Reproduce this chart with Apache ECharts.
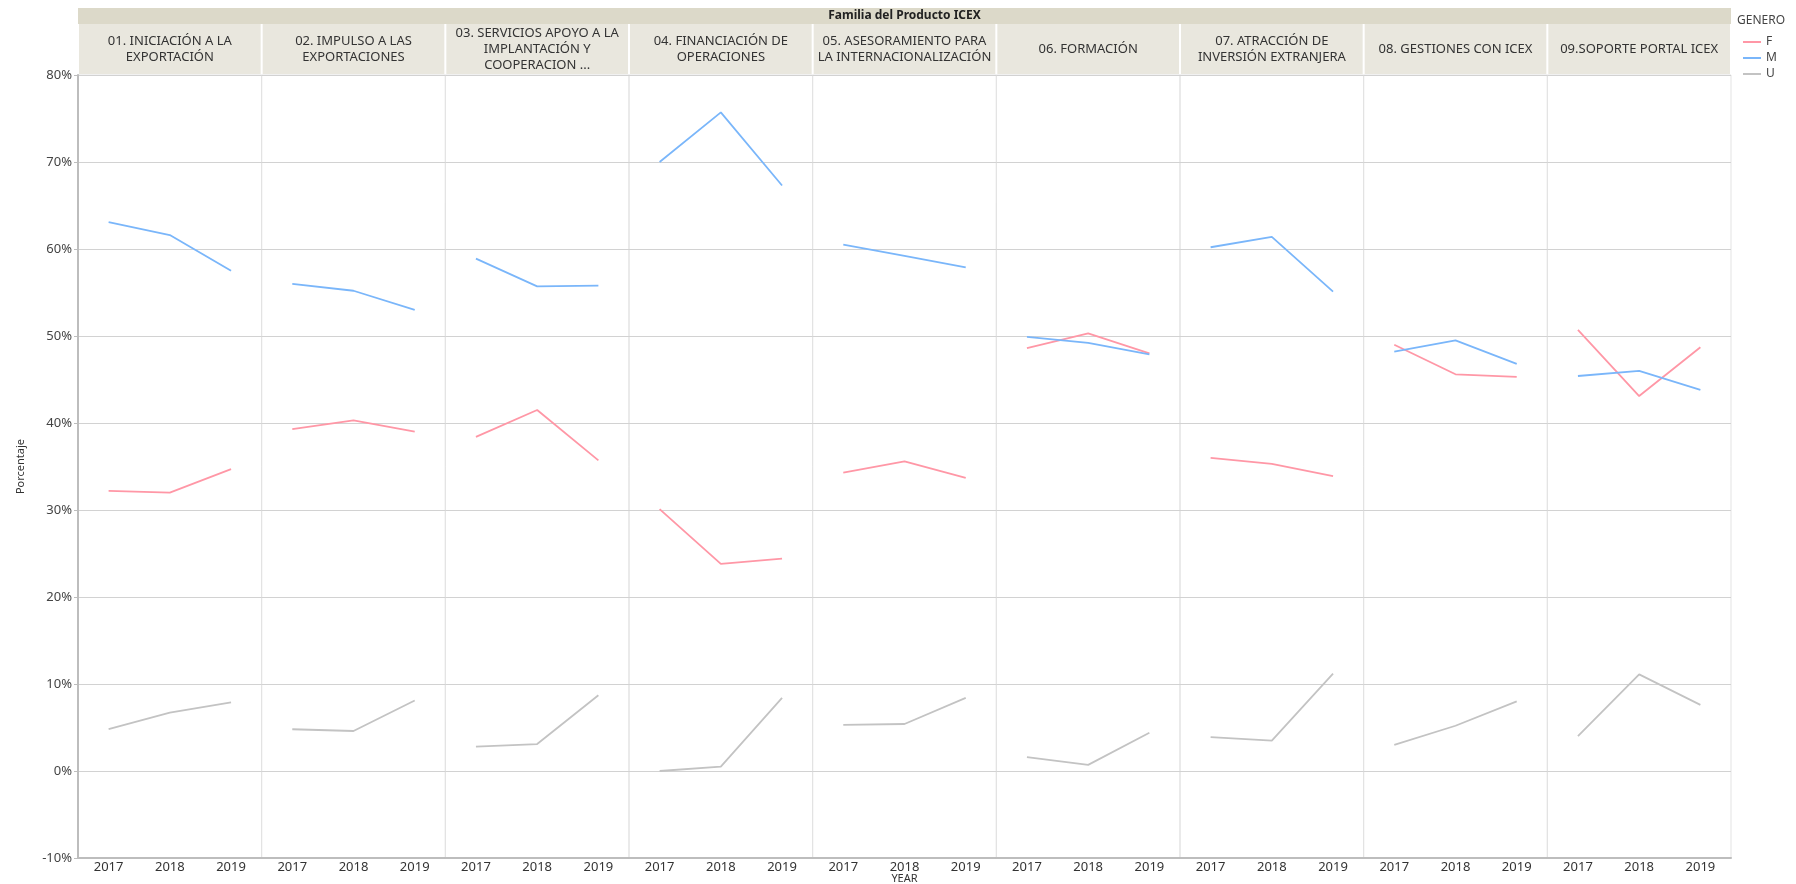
<!DOCTYPE html>
<html>
<head>
<meta charset="utf-8">
<script src="https://cdn.jsdelivr.net/npm/echarts@6/dist/echarts.min.js"></script>
<style>
html, body { margin: 0; padding: 0; background: #fff; }
#main { width: 1796px; height: 884px; }
</style>
</head>
<body>
<div id="main"></div>
<script>
// datos por familia (F, M, U) en %
const families = [
    '01. INICIACIÓN A LA\nEXPORTACIÓN',
    '02. IMPULSO A LAS\nEXPORTACIONES',
    '03. SERVICIOS APOYO A LA\nIMPLANTACIÓN Y\nCOOPERACION ...',
    '04. FINANCIACIÓN DE\nOPERACIONES',
    '05. ASESORAMIENTO PARA\nLA INTERNACIONALIZACIÓN',
    '06. FORMACIÓN',
    '07. ATRACCIÓN DE\nINVERSIÓN EXTRANJERA',
    '08. GESTIONES CON ICEX',
    '09.SOPORTE PORTAL ICEX'
];
const years = ['2017', '2018', '2019'];
const genders = ['F', 'M', 'U'];

const valuesF = [
    [32.2, 32.0, 34.7],
    [39.3, 40.3, 39.0],
    [38.4, 41.5, 35.7],
    [30.1, 23.8, 24.4],
    [34.3, 35.6, 33.7],
    [48.6, 50.3, 48.0],
    [36.0, 35.3, 33.9],
    [49.0, 45.6, 45.3],
    [50.7, 43.1, 48.7]
];
const valuesM = [
    [63.1, 61.6, 57.5],
    [56.0, 55.2, 53.0],
    [58.9, 55.7, 55.8],
    [70.0, 75.7, 67.3],
    [60.5, 59.2, 57.9],
    [49.9, 49.2, 47.9],
    [60.2, 61.4, 55.1],
    [48.2, 49.5, 46.8],
    [45.4, 46.0, 43.8]
];
const valuesU = [
    [4.8, 6.7, 7.9],
    [4.8, 4.6, 8.1],
    [2.8, 3.1, 8.7],
    [0.0, 0.5, 8.4],
    [5.3, 5.4, 8.4],
    [1.6, 0.7, 4.4],
    [3.9, 3.5, 11.2],
    [3.0, 5.2, 8.0],
    [4.0, 11.1, 7.6]
];
const yMin = -10, yMax = 80, yStep = 10;

(function() {
    let chartDom = document.getElementById('main');
    let myChart = echarts.init(chartDom);

    const font = 'Noto Sans';
    const colors = { F: '#ff97a6', M: '#7ab6fa', U: '#c3c3c3' };
    const seriesData = { F: valuesF, M: valuesM, U: valuesU };

    // layout
    const L = 78, R = 1731, T = 75, B = 858;
    const W = (R - L) / families.length;
    const H = B - T;

    let grids = [], xAxes = [], yAxes = [], series = [];
    let graphics = [];

    // franja superior
    graphics.push({
        type: 'rect', shape: { x: L, y: 8, width: R - L, height: 16 },
        style: { fill: '#dcd9c9' }, silent: true
    });
    graphics.push({
        type: 'text', x: (L + R) / 2, y: 16,
        style: { text: 'Familia del Producto ICEX', fontFamily: font, fontSize: 12, fontWeight: 'bold',
                 fill: '#222', textAlign: 'center', textVerticalAlign: 'middle' }, silent: true
    });
    graphics.push({
        type: 'text', x: 1737, y: 21,
        style: { text: 'GENERO', fontFamily: font, fontSize: 12, fill: '#444', textVerticalAlign: 'middle' }
    });
    graphics.push({
        type: 'text', x: (L + R) / 2, y: 879,
        style: { text: 'YEAR', fontFamily: font, fontSize: 11, fill: '#333',
                 textAlign: 'center', textVerticalAlign: 'middle' }
    });

    families.forEach(function(name, i) {
        let x0 = L + i * W;
        grids.push({
            left: x0, top: T, width: W, height: H,
            outerBoundsMode: 'none',
            show: true, borderColor: '#e3e3e3', borderWidth: 1
        });
        xAxes.push({
            type: 'category', gridIndex: i, data: years, boundaryGap: true,
            axisTick: { show: false },
            axisLine: { onZero: false, lineStyle: { color: '#bdbdbd', width: 2 } },
            axisLabel: { interval: 0, color: '#333', fontSize: 13, fontFamily: font, margin: 3 }
        });
        yAxes.push({
            type: 'value', gridIndex: i, min: yMin, max: yMax, interval: yStep,
            splitLine: { lineStyle: { color: '#d2d2d2' } },
            axisLine: { show: i === 0, lineStyle: { color: '#bdbdbd', width: 2 } },
            axisTick: { show: i === 0, length: 4, lineStyle: { color: '#bdbdbd' } },
            axisLabel: { show: i === 0, formatter: '{value}%', color: '#444', fontSize: 13, fontFamily: font, margin: 6 },
            name: i === 0 ? 'Porcentaje' : '',
            nameLocation: 'middle', nameGap: 52,
            nameTextStyle: { color: '#333', fontSize: 11, fontFamily: font }
        });
        genders.forEach(function(g) {
            series.push({
                name: g, type: 'line', xAxisIndex: i, yAxisIndex: i,
                data: seriesData[g][i], symbol: 'none', color: colors[g],
                lineStyle: { width: 1.8 }, animation: false
            });
        });
        // cabecera de la faceta
        graphics.push({
            type: 'rect', shape: { x: x0 + 1, y: 24, width: W - 2, height: 50 },
            style: { fill: '#e9e7de' }, silent: true
        });
        graphics.push({
            type: 'text', x: x0 + W / 2, y: 49,
            style: { text: name, fontFamily: font, fontSize: 13, fill: '#333', lineHeight: 16,
                     textAlign: 'center', textVerticalAlign: 'middle' }, silent: true
        });
    });

    let option = {
        animation: false,
        grid: grids,
        xAxis: xAxes,
        yAxis: yAxes,
        legend: {
            orient: 'vertical', left: 1738, top: 30,
            data: genders, icon: 'rect', itemWidth: 18, itemHeight: 2, itemGap: 2,
            textStyle: { fontSize: 12, color: '#444', fontFamily: font, lineHeight: 14 }
        },
        graphic: graphics,
        series: series
    };
    myChart.setOption(option);
    window.addEventListener('resize', function() {
        myChart.resize();
    });
})();
</script>
</body>
</html>
